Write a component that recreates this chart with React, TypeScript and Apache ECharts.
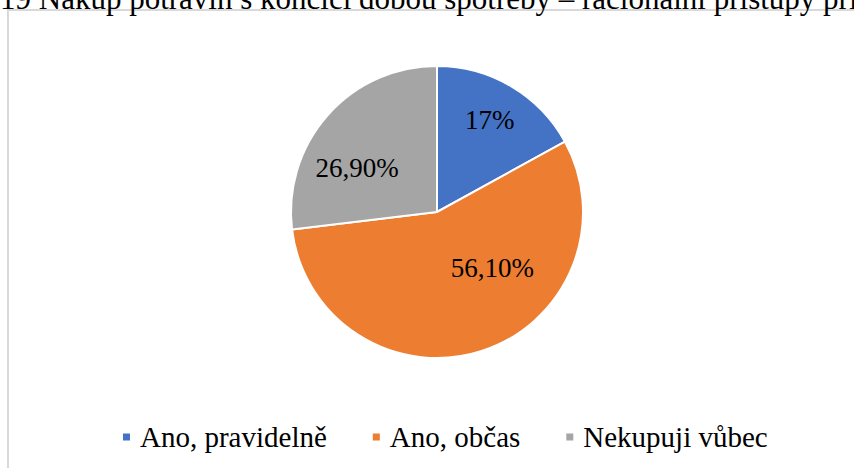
import React, { useEffect, useRef } from "react";
import * as echarts from "echarts";

const categories = ["Ano, pravidelně", "Ano, občas", "Nekupuji vůbec"];
const values = [17, 56.1, 26.9];
const colors = ["#4472C4", "#ED7D31", "#A5A5A5"];
const titleText = "19 Nákup potravin s končící dobou spotřeby – racionální přístupy při nákupu";

const FONT = "Liberation Serif";
const labelNudge = [
  [14, -27],
  [32, -16],
  [-23, 6],
];

export default function App() {
  const ref = useRef<HTMLDivElement>(null);
  useEffect(() => {
    document.body.style.margin = "0";
    const chart = echarts.init(ref.current!, null, { renderer: "svg" });
    chart.setOption({
      animation: false,
      backgroundColor: "#ffffff",
      textStyle: { fontFamily: FONT },
      graphic: [
        {
          type: "rect",
          shape: { x: 8, y: 10, width: 900, height: 500 },
          style: { fill: "none", stroke: "#d9d9d9", lineWidth: 2 },
          z: 0,
        },
        {
          type: "text",
          x: 0,
          y: 14,
          style: {
            text: titleText,
            fontFamily: FONT,
            fontSize: 31,
            fill: "#000",
            verticalAlign: "bottom",
            align: "left",
          },
          z: 10,
        },
      ],
      legend: {
        data: categories,
        left: 121,
        top: 422,
        padding: 0,
        icon: "rect",
        itemWidth: 9,
        itemHeight: 9,
        itemGap: 44,
        textStyle: {
          fontFamily: FONT,
          fontSize: 29,
          color: "#000",
          lineHeight: 30,
          padding: [0, 0, 0, 4],
        },
      },
      series: [
        {
          type: "pie",
          center: [437, 212],
          radius: 146,
          startAngle: 90,
          clockwise: true,
          itemStyle: { borderColor: "#fff", borderWidth: 2 },
          label: {
            show: true,
            position: "inside",
            fontFamily: FONT,
            fontSize: 27,
            color: "#000",
            formatter: (p: any) =>
              Number.isInteger(p.value)
                ? `${p.value}%`
                : `${p.value.toFixed(2).replace(".", ",")}%`,
          },
          labelLayout: (p: any) => ({
            dx: labelNudge[p.dataIndex][0],
            dy: labelNudge[p.dataIndex][1],
          }),
          labelLine: { show: false },
          emphasis: { disabled: true },
          data: categories.map((c, i) => ({
            name: c,
            value: values[i],
            itemStyle: { color: colors[i] },
          })),
        },
      ],
    });
    return () => chart.dispose();
  }, []);
  return (
    <div
      ref={ref}
      style={{ position: "fixed", left: 0, top: 0, width: 854, height: 468 }}
    />
  );
}
